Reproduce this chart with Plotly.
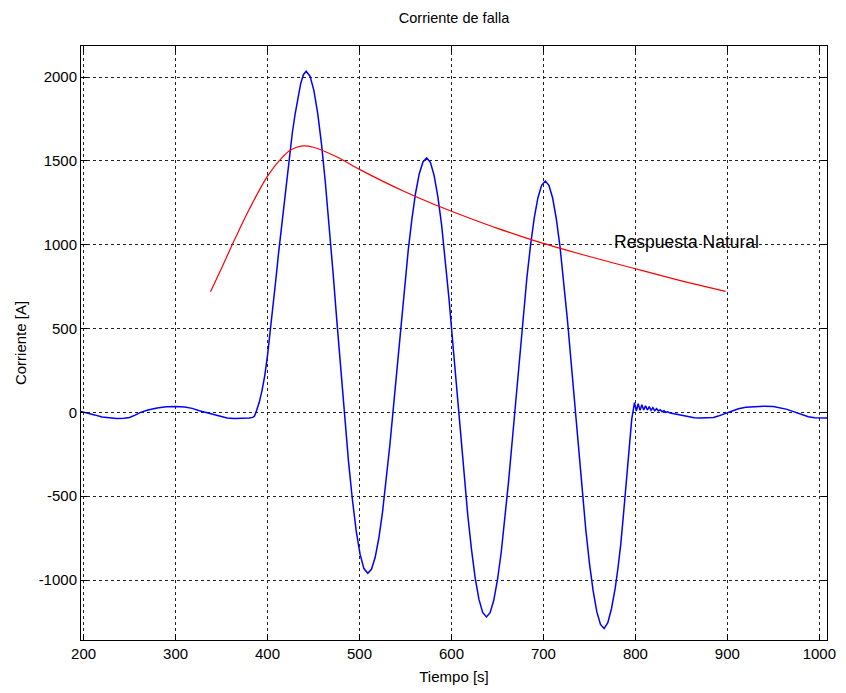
import plotly.graph_objects as go

# Fault current (blue trace): time [s] and current [A]
t_falla = [
    197, 205, 212, 220, 228, 236, 244, 250, 256, 262, 270, 280, 290, 300, 310, 318,
    326, 333, 340, 348, 356, 364, 372, 380, 384, 386,
    388, 391, 394, 397, 400, 403, 406, 409, 412, 415, 418, 421, 424, 427, 430, 433,
    436, 439, 442,
    446.2, 450.4, 454.6, 458.8, 462.9, 467.1, 471.3, 475.5, 479.7, 483.9, 488.1,
    492.3, 496.4, 500.6, 504.8, 509,
    513, 517, 521, 525, 529, 533, 537, 541, 545, 549, 553, 557, 561, 565, 569, 573,
    577.1, 581.1, 585.2, 589.3, 593.3, 597.4, 601.4, 605.5, 609.6, 613.6, 617.7,
    621.8, 625.8, 629.9, 633.9, 638,
    642, 646, 650, 654, 658, 662, 666, 670, 674, 678, 682, 686, 690, 694, 698, 702,
    706, 710, 714, 718, 722, 726, 730, 734, 738, 742, 746, 750, 754, 758, 762, 766,
    770, 774, 778, 781, 784, 787, 790, 793, 796, 799,
    801, 803, 805, 807, 809, 811, 813, 815, 817, 819, 821, 823, 825, 827, 829, 831,
    833, 835, 838, 842, 847, 852, 858, 864, 870, 878, 885, 890, 895, 900, 906, 912,
    920, 930, 940, 950, 958, 965, 971, 976, 982, 988, 995, 1002, 1009,
]
i_falla = [
    6, -4, -15, -28, -34, -36, -35, -30, -16, 0, 14, 26, 33, 35, 32, 24,
    10, 0, -12, -26, -33, -36, -36, -34, -30, -20,
    10, 60, 130, 220, 340, 480, 630, 790, 950, 1100, 1250, 1400, 1540, 1670, 1780, 1880,
    1960, 2015, 2035,
    2006, 1921, 1782, 1596, 1370, 1111, 830, 537, 245, -36, -295,
    -521, -707, -846, -932, -960,
    -936, -866, -751, -597, -410, -196, 37, 279, 521, 754, 968, 1155, 1309, 1424, 1494, 1518,
    1492, 1414, 1287, 1117, 910, 673, 416, 149, -118, -375, -612,
    -819, -989, -1116, -1194, -1220,
    -1195, -1121, -1000, -839, -643, -418, -174, 80, 334, 578, 803, 999, 1160, 1281, 1355, 1380,
    1355, 1279, 1154, 989, 787, 556, 305, 45, -215, -466, -697, -899, -1064, -1189, -1265, -1290,
    -1255, -1170, -1050, -930, -790, -610, -420, -220, -40, 58,
    8, 52, 12, 46, 14, 40, 14, 34, 12, 28, 10, 22, 8, 16, 4, 10,
    0, 4, -4, -8, -14, -20, -27, -32, -34, -34, -30, -22, -11, 0, 12, 22,
    31, 36, 37, 35, 28, 18, 6, -4, -16, -26, -32, -34, -34,
]

# Natural response envelope (red trace)
t_natural = [338, 350, 365, 380, 400, 415, 425, 438, 450, 475, 500, 525, 550, 575,
             600, 625, 650, 675, 700, 725, 750, 775, 800, 825, 850, 875, 898]
i_natural = [720, 860, 1040, 1210, 1410, 1515, 1565, 1590, 1582, 1525, 1450, 1380,
             1315, 1255, 1200, 1148, 1098, 1052, 1008, 968, 930, 893, 857, 820, 785,
             752, 722]

x_ticks = [200, 300, 400, 500, 600, 700, 800, 900, 1000]
y_ticks = [-1000, -500, 0, 500, 1000, 1500, 2000]
y_tick_text = ["-1000", "-500", "0", "500", "1000", "1500", "2000"]

label_font = dict(family="Liberation Sans Narrow, Arial Narrow, Liberation Sans, Arial",
                  size=15, color="black")

fig = go.Figure()
fig.add_trace(go.Scatter(x=t_falla, y=i_falla, mode="lines",
                         line=dict(color="#0000ff", width=1.5), showlegend=False))
fig.add_trace(go.Scatter(x=t_natural, y=i_natural, mode="lines",
                         line=dict(color="#ff0000", width=1.2, shape="spline", smoothing=1),
                         showlegend=False))

fig.add_annotation(x=774, y=1018, text="Respuesta Natural", showarrow=False,
                   xanchor="left", yanchor="middle",
                   font=dict(family="Liberation Sans, Arial", size=17.5, color="black"))

axis_style = dict(
    showline=True, linecolor="black", linewidth=1, mirror="ticks",
    ticks="inside", ticklen=6, tickcolor="black", tickwidth=1,
    showgrid=True, gridcolor="#222222", gridwidth=1, griddash="3px,3px",
    zeroline=False, tickfont=label_font,
)

fig.update_xaxes(range=[197.2, 1008.3], tickvals=x_ticks,
                 title=dict(text="Tiempo [s]", font=label_font, standoff=10), **axis_style)
fig.update_yaxes(range=[-1358, 2186], tickvals=y_ticks, ticktext=y_tick_text,
                 title=dict(text="Corriente [A]", font=label_font, standoff=8), **axis_style)

fig.update_layout(
    width=846, height=693,
    margin=dict(l=81, r=10, t=46, b=52),
    plot_bgcolor="white", paper_bgcolor="white",
    title=dict(text="Corriente de falla", x=0.5, xref="paper", xanchor="center",
               y=1 - 18 / 693, yref="container", yanchor="middle",
               font=dict(family="Liberation Sans Narrow, Arial Narrow, Liberation Sans, Arial",
                         size=14.5, color="black")),
)

fig.write_html("out.html")
